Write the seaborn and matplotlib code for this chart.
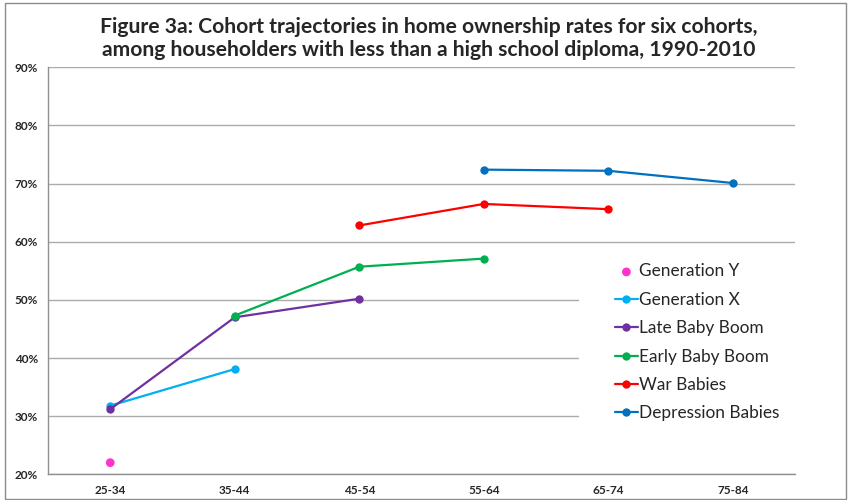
import matplotlib as mpl
mpl.use('agg')
import matplotlib.pyplot as plt
import matplotlib.patches as mpatches
from matplotlib.ticker import FixedLocator, PercentFormatter
import pandas as pd
import seaborn as sns

# Age groups on x axis
age_groups = ["25-34", "35-44", "45-54", "55-64", "65-74", "75-84"]

# Home ownership rates (%) per cohort, keyed by age group
gen_y_ages = ["25-34"]
gen_y = [22.0]
gen_x_ages = ["25-34", "35-44"]
gen_x = [31.8, 38.1]
late_boom_ages = ["25-34", "35-44", "45-54"]
late_boom = [31.2, 47.0, 50.2]
early_boom_ages = ["35-44", "45-54", "55-64"]
early_boom = [47.3, 55.7, 57.1]
war_ages = ["45-54", "55-64", "65-74"]
war_babies = [62.8, 66.5, 65.6]
depr_ages = ["55-64", "65-74", "75-84"]
depression = [72.4, 72.2, 70.1]

cohorts = ["Generation Y", "Generation X", "Late Baby Boom",
           "Early Baby Boom", "War Babies", "Depression Babies"]
colors = ["#FF33CC", "#00B0F0", "#7030A0", "#00B050", "#FF0000", "#0070C0"]


def build_frame():
    """Long format dataframe of all cohorts"""
    parts = []
    series = [(gen_y_ages, gen_y), (gen_x_ages, gen_x), (late_boom_ages, late_boom),
              (early_boom_ages, early_boom), (war_ages, war_babies), (depr_ages, depression)]
    for name, (ages, vals) in zip(cohorts, series):
        parts.append(pd.DataFrame({"Cohort": name, "Age": ages, "Rate": vals}))
    df = pd.concat(parts, ignore_index=True)
    df["pos"] = df["Age"].map({a: i for i, a in enumerate(age_groups)})
    return df


df = build_frame()

sns.set_style("white")
plt.rcParams['font.family'] = ['Lato', 'DejaVu Sans']

fig = plt.figure(figsize=(8.49, 5), dpi=100)
ax = fig.add_axes([0.0565, 0.0514, 0.88, 0.814])

for name, col in zip(cohorts, colors):
    sub = df[df.Cohort == name]
    if len(sub) == 1:
        sns.scatterplot(data=sub, x="pos", y="Rate", color=col, s=40,
                        edgecolor="none", ax=ax, label=name, zorder=3)
    else:
        sns.lineplot(data=sub, x="pos", y="Rate", color=col, marker="o",
                     markersize=6, markeredgewidth=0, linewidth=1.6,
                     ax=ax, label=name, zorder=3)

ax.set_xlim(-0.5, len(age_groups) - 0.5)
ax.set_ylim(20, 90)
ax.set_yticks(range(20, 91, 10))
ax.yaxis.set_major_formatter(PercentFormatter(decimals=0))
ax.set_xticks(range(len(age_groups)))
ax.set_xticklabels(age_groups)
ax.xaxis.set_minor_locator(FixedLocator([i + 0.5 for i in range(-1, len(age_groups))]))
ax.tick_params(axis="x", which="major", length=0, pad=8, labelsize=8.5)
ax.tick_params(axis="x", which="minor", length=4, color="#A0A0A0", direction="out")
ax.tick_params(axis="y", length=4, color="#A0A0A0", direction="out", labelsize=8.5, pad=3)
for lab in ax.get_xticklabels() + ax.get_yticklabels():
    lab.set_fontweight("bold")
ax.set_xlabel("")
ax.set_ylabel("")
ax.yaxis.grid(True, color="#ABABAB", linewidth=1)
ax.set_axisbelow(True)
for side in ["top", "right"]:
    ax.spines[side].set_visible(False)
for side in ["left", "bottom"]:
    ax.spines[side].set_color("#909090")
    ax.spines[side].set_linewidth(1)

# white legend box hiding gridlines behind it
ax.add_patch(mpatches.Rectangle((0.711, 0.121), 0.289, 0.43, transform=ax.transAxes,
                                facecolor="white", edgecolor="none", zorder=2))

leg = ax.legend(loc="upper left", bbox_to_anchor=(0.75, 0.535), frameon=False,
                fontsize=12.4, handlelength=1.3, handletextpad=0.1,
                labelspacing=0.72, borderaxespad=0)

fig.suptitle("Figure 3a: Cohort trajectories in home ownership rates for six cohorts,\n"
             "among householders with less than a high school diploma, 1990-2010",
             fontsize=15.2, fontweight="bold", y=0.966, x=0.505, linespacing=1.2)

fig.patches.append(mpatches.Rectangle((0.006, 0.003), 0.99, 0.992, transform=fig.transFigure,
                                      fill=False, edgecolor="#8C8C8C", linewidth=1))

plt.savefig("out.png", dpi=100)
plt.close()
